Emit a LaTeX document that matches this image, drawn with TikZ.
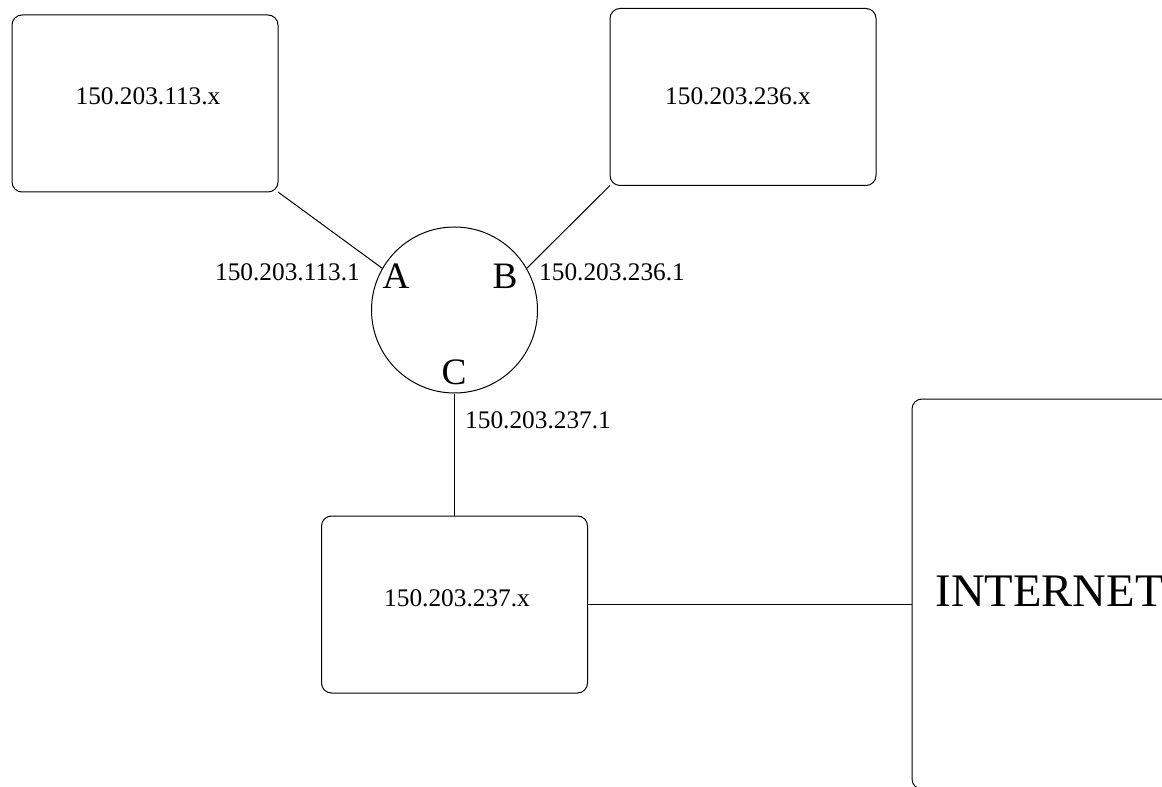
\documentclass[tikz,border=0pt]{standalone}
\usepackage{fontspec}
\setmainfont{Liberation Serif}
\begin{document}
\begin{tikzpicture}[x=0.75pt, y=-0.75pt, line width=0.75pt,
    netbox/.style={draw, rounded corners=7.5pt, inner sep=0pt, outer sep=0pt,
        minimum width=199.5pt, minimum height=132.75pt},
    iplabel/.style={font=\fontsize{19}{22}\selectfont, inner sep=0pt},
    portlabel/.style={font=\fontsize{28}{32}\selectfont, inner sep=0pt}]
    \useasboundingbox (0,0) rectangle (1162,787);
    \clip (0,0) rectangle (1162,787);
    % Subnets
    \node[netbox] (net113) at (145,103.5) {};
    \node[netbox] (net236) at (743,97) {};
    \node[netbox] (net237) at (454.5,604.5) {};
    \node[draw, rounded corners=7.5pt, inner sep=0pt,
        minimum width=216pt, minimum height=292.5pt] (inet) at (1056,594) {};
    \node[iplabel] (t113) at (148,96) {150.203.113.x};
    \node[iplabel] (t236) at (738,96) {150.203.236.x};
    \node[iplabel] (t237) at (457,598) {150.203.237.x};
    \node[font=\fontsize{35}{40}\selectfont, inner sep=0pt, anchor=west] (tinet) at (935,591) {INTERNET};
    % Router
    \node[draw, circle, inner sep=0pt, minimum size=124.5pt] (router) at (454.5,310) {};
    \node[portlabel] (pa) at (396,276) {A};
    \node[portlabel] (pb) at (505,276) {B};
    \node[portlabel] (pc) at (454,372) {C};
    % Interface addresses
    \node[iplabel] (ia) at (287.5,272) {150.203.113.1};
    \node[iplabel] (ib) at (612,272) {150.203.236.1};
    \node[iplabel] (ic) at (538,420) {150.203.237.1};
    % Links
    \draw (net113.south east) -- (router.150);
    \draw (net236.south west) -- (router.30);
    \draw (router.south) -- (net237.north);
    \draw (net237.east) -- (net237.east -| inet.west);
\end{tikzpicture}
\end{document}
